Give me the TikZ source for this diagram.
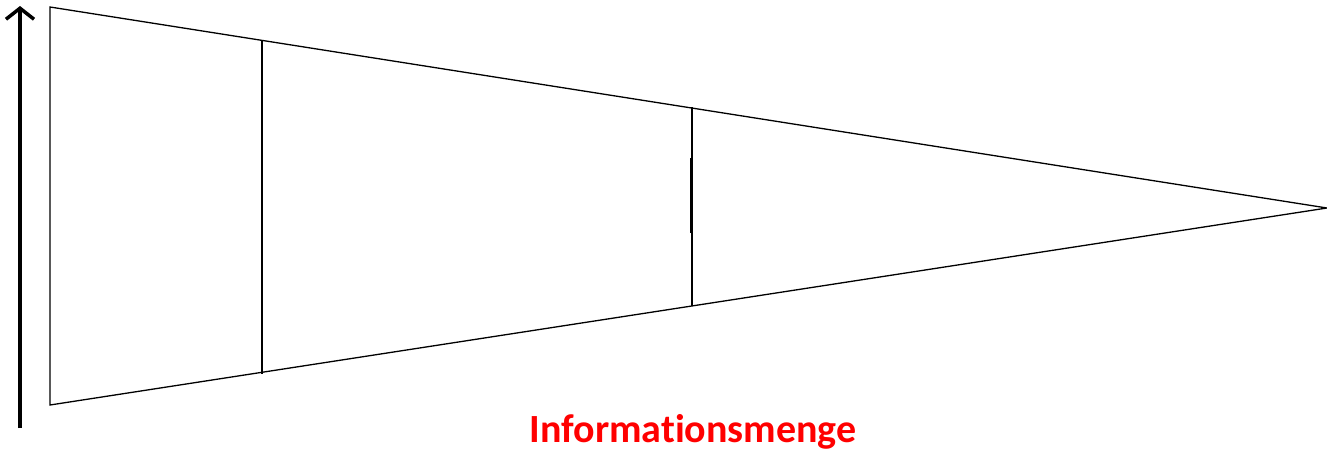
\documentclass[tikz,border=0pt]{standalone}
\usepackage{fontspec}
\setmainfont[Ligatures=NoCommon]{Carlito}
\usetikzlibrary{arrows.meta}
\begin{document}
\begin{tikzpicture}[x=1pt,y=-1pt,
  edge/.style={line width=1.3pt,black},
  divider/.style={line width=2pt,black},
  axis/.style={line width=4.2pt,black,-{Straight Barb[length=11pt,width=28pt,line width=3.5pt]}},
  label/.style={text=red,font=\bfseries\fontsize{40}{46}\selectfont,inner sep=0pt}]
\useasboundingbox (0,0) rectangle (1327,450);
\coordinate (tl) at (50,7);
\coordinate (bl) at (50,405);
\coordinate (tip) at (1327,208);
\draw[edge] (tl) -- (tip) -- (bl) -- cycle;
\coordinate (a1) at (262,41);
\coordinate (a2) at (262,374);
\draw[divider] (a1) -- (a2);
\coordinate (b1) at (692,107);
\coordinate (b2) at (692,306);
\draw[divider] (b1) -- (b2);
\coordinate (c1) at (690.8,158);
\coordinate (c2) at (690.8,233);
\draw[divider] (c1) -- (c2);
\coordinate (ax0) at (20,428);
\coordinate (ax1) at (20,6);
\draw[axis] (ax0) -- (ax1);
\node[label,anchor=base] (lab) at (693,442) {Informationsmenge};
\end{tikzpicture}
\end{document}
